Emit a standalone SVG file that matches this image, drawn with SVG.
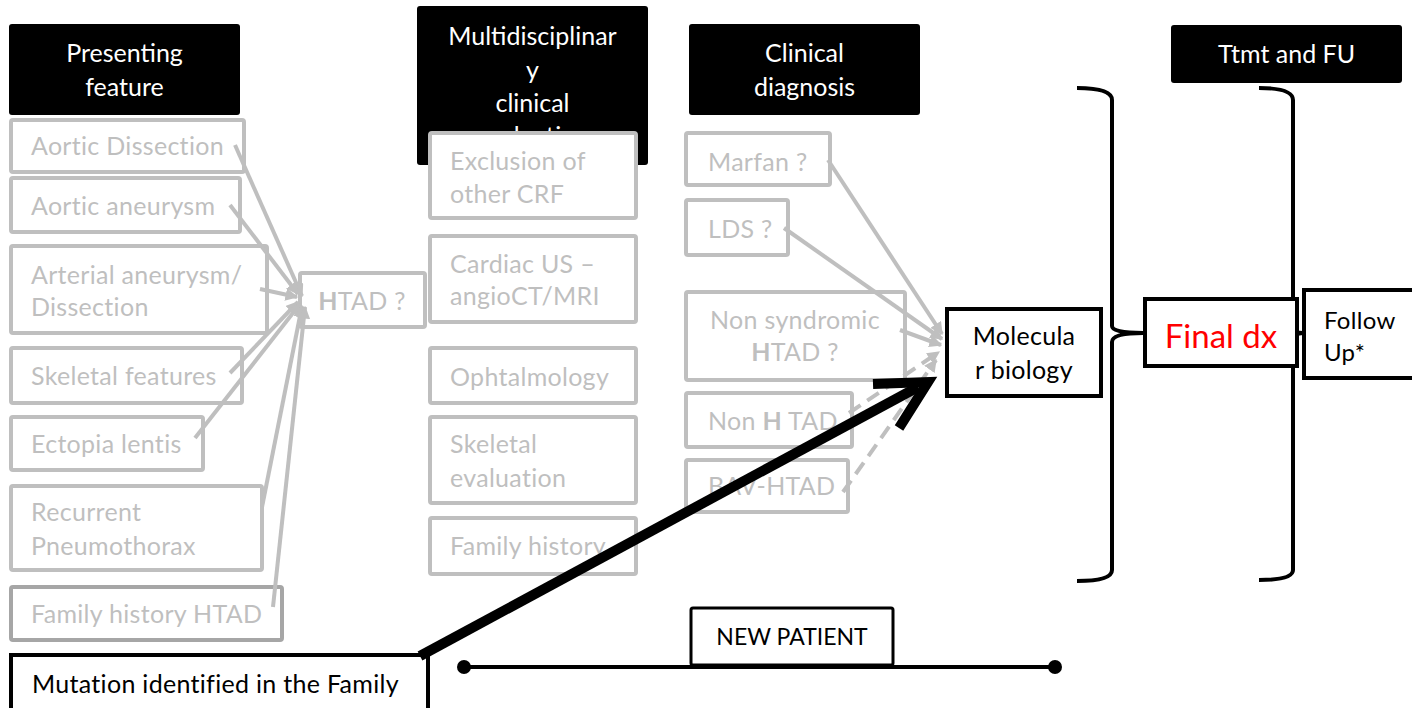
<svg xmlns="http://www.w3.org/2000/svg" width="1412" height="708" viewBox="0 0 1412 708">
<style>
.hdr{fill:#000;}
.ht{fill:#fff;font-family:Lato,"Open Sans",sans-serif;font-size:25px;text-anchor:middle;}
.gb{fill:#fff;stroke:#bfbfbf;stroke-width:4;}
.gt{fill:#bfbfbf;font-family:Lato,"Open Sans",sans-serif;font-size:25px;letter-spacing:0.3px;}
.bb{fill:#fff;stroke:#000;stroke-width:4;}
.bt{fill:#000;font-family:Lato,"Open Sans",sans-serif;font-size:25px;letter-spacing:0.3px;}
.gl{stroke:#bfbfbf;stroke-width:4;fill:none;marker-end:url(#ga);}
.gd{stroke:#bfbfbf;stroke-width:4;fill:none;stroke-dasharray:14 8;marker-end:url(#ga);}
.br{stroke:#000;stroke-width:4;fill:none;}
</style>
<defs>
<marker id="ga" viewBox="0 0 10 10" refX="9" refY="5" markerWidth="3.2" markerHeight="3.2" orient="auto">
<path d="M0,0 L10,5 L0,10 z" fill="#bfbfbf"/>
</marker>
<clipPath id="clipMulti"><rect x="417" y="6" width="231" height="127"/></clipPath>
</defs>
<rect width="1412" height="708" fill="#fff"/>

<g id="hdr-presenting">
<rect class="hdr" x="9" y="24" width="231" height="91" rx="3"/>
<text class="ht" x="124.5" y="62">Presenting</text>
<text class="ht" x="124.5" y="96">feature</text>
</g>
<g id="hdr-multi">
<rect class="hdr" x="417" y="6" width="231" height="159" rx="3"/>
<text class="ht" x="532.5" y="45">Multidisciplinar</text>
<text class="ht" x="532.5" y="79">y</text>
<text class="ht" x="532.5" y="112">clinical</text>
<text class="ht" x="532.5" y="145" clip-path="url(#clipMulti)">evaluation</text>
</g>
<g id="hdr-clinical">
<rect class="hdr" x="689" y="24" width="231" height="91" rx="3"/>
<text class="ht" x="804.5" y="62">Clinical</text>
<text class="ht" x="804.5" y="96">diagnosis</text>
</g>
<g id="hdr-ttmt">
<rect class="hdr" x="1171" y="25" width="231" height="58" rx="3"/>
<text class="ht" x="1286.5" y="63">Ttmt and FU</text>
</g>

<g id="brackets">
<path class="br" d="M1077,88 Q1112,88 1112,100 L1112,326 Q1112,333 1143,333 Q1112,333 1112,342 L1112,570 Q1112,581 1077,581"/>
<path class="br" d="M1259,88 Q1293,88 1293,100 L1293,326 Q1293,333 1303,333 Q1293,333 1293,342 L1293,570 Q1293,580 1259,580"/>
</g>

<g id="n-aortic-dissection"><rect class="gb" x="11" y="120" width="233" height="52" rx="2"/><text class="gt" x="31" y="155">Aortic Dissection</text></g>
<g id="n-aortic-aneurysm"><rect class="gb" x="11" y="178" width="229" height="54" rx="2"/><text class="gt" x="31" y="215">Aortic aneurysm</text></g>
<g id="n-arterial"><rect class="gb" x="11" y="246" width="256" height="87" rx="2"/><text class="gt" x="31" y="284">Arterial aneurysm/</text><text class="gt" x="31" y="316">Dissection</text></g>
<g id="n-skeletal"><rect class="gb" x="11" y="348" width="231" height="55" rx="2"/><text class="gt" x="31" y="385">Skeletal features</text></g>
<g id="n-ectopia"><rect class="gb" x="11" y="417" width="192" height="53" rx="2"/><text class="gt" x="31" y="453">Ectopia lentis</text></g>
<g id="n-recurrent"><rect class="gb" x="11" y="486" width="251" height="84" rx="2"/><text class="gt" x="31" y="521">Recurrent</text><text class="gt" x="31" y="555">Pneumothorax</text></g>
<g id="n-family-htad"><rect class="gb" x="11" y="587" width="271" height="53" rx="2" style="stroke:#a6a6a6"/><text class="gt" x="31" y="623">Family history HTAD</text></g>
<g id="n-htad"><rect class="gb" x="300" y="273" width="125" height="54" rx="2"/><text class="gt" x="362" y="310" text-anchor="middle"><tspan font-weight="bold">H</tspan>TAD ?</text></g>

<g id="n-exclusion"><rect class="gb" x="430" y="133" width="206" height="85" rx="2"/><text class="gt" x="450" y="170">Exclusion of</text><text class="gt" x="450" y="203">other CRF</text></g>
<g id="n-cardiac"><rect class="gb" x="430" y="236" width="206" height="86" rx="2"/><text class="gt" x="450" y="273">Cardiac US –</text><text class="gt" x="450" y="305">angioCT/MRI</text></g>
<g id="n-ophtal"><rect class="gb" x="430" y="348" width="206" height="55" rx="2"/><text class="gt" x="450" y="386">Ophtalmology</text></g>
<g id="n-skeletal-eval"><rect class="gb" x="430" y="417" width="206" height="86" rx="2"/><text class="gt" x="450" y="453">Skeletal</text><text class="gt" x="450" y="487">evaluation</text></g>
<g id="n-family-history"><rect class="gb" x="430" y="518" width="206" height="56" rx="2"/><text class="gt" x="450" y="555">Family history</text></g>

<g id="n-marfan"><rect class="gb" x="686" y="133" width="144" height="52" rx="2"/><text class="gt" x="708" y="171">Marfan ?</text></g>
<g id="n-lds"><rect class="gb" x="686" y="200" width="102" height="55" rx="2"/><text class="gt" x="708" y="238">LDS ?</text></g>
<g id="n-nonsyn"><rect class="gb" x="686" y="292" width="219" height="88" rx="2"/><text class="gt" x="795" y="329" text-anchor="middle">Non syndromic</text><text class="gt" x="795" y="361" text-anchor="middle"><tspan font-weight="bold">H</tspan>TAD ?</text></g>
<g id="n-nonhtad"><rect class="gb" x="686" y="393" width="166" height="54" rx="2"/><text class="gt" x="708" y="430">Non <tspan font-weight="bold">H</tspan> TAD</text></g>
<g id="n-bav"><rect class="gb" x="686" y="460" width="162" height="52" rx="2"/><text class="gt" x="708" y="495">BAV-HTAD</text></g>

<g id="n-molecular"><rect class="bb" x="947" y="309" width="154" height="87"/><text class="bt" x="1024" y="345" text-anchor="middle">Molecula</text><text class="bt" x="1024" y="379" text-anchor="middle">r biology</text></g>
<g id="n-finaldx"><rect class="bb" x="1145" y="299" width="152" height="67"/><text x="1221" y="348" text-anchor="middle" font-family="Lato,'Open Sans',sans-serif" font-size="33" fill="#ff0000">Final dx</text></g>
<g id="n-followup"><rect class="bb" x="1304" y="290" width="112" height="88"/><text class="bt" x="1324" y="329" style="font-size:24px">Follow</text><text class="bt" x="1324" y="361" style="font-size:24px">Up*</text></g>

<g id="n-mutation"><rect class="bb" x="11" y="655" width="417" height="60"/><text class="bt" x="32" y="693">Mutation identified in the Family</text></g>

<g id="n-newpatient">
<line x1="464" y1="667" x2="1055" y2="667" stroke="#000" stroke-width="4"/>
<circle cx="464" cy="667" r="7"/>
<circle cx="1055" cy="667" r="7"/>
<rect class="bb" x="691" y="608" width="202" height="57" rx="2" style="stroke-width:3"/>
<text x="792" y="645" text-anchor="middle" font-family="Lato,'Open Sans',sans-serif" font-size="23" fill="#000">NEW PATIENT</text>
</g>

<g id="connectors">
<line class="gl" x1="235" y1="145" x2="302" y2="296"/>
<line class="gl" x1="230" y1="205" x2="298" y2="294"/>
<line class="gl" x1="260" y1="289" x2="297" y2="297"/>
<line class="gl" x1="230" y1="373" x2="298" y2="302"/>
<line class="gl" x1="195" y1="438" x2="300" y2="304"/>
<line class="gl" x1="262" y1="507" x2="302" y2="306"/>
<line class="gl" x1="273" y1="607" x2="305" y2="307"/>

<line class="gl" x1="828" y1="160" x2="942" y2="334"/>
<line class="gl" x1="784" y1="228" x2="942" y2="339"/>
<line class="gl" x1="900" y1="330" x2="941" y2="345"/>
<line class="gd" x1="849" y1="413" x2="939" y2="352"/>
<line class="gd" x1="843" y1="492" x2="936" y2="360"/>

<line x1="420" y1="656" x2="918" y2="387" stroke="#000" stroke-width="10"/>
<path d="M873,384 L928,382 L899,428" stroke="#000" stroke-width="10" fill="none" stroke-linejoin="miter"/>
</g>
</svg>
